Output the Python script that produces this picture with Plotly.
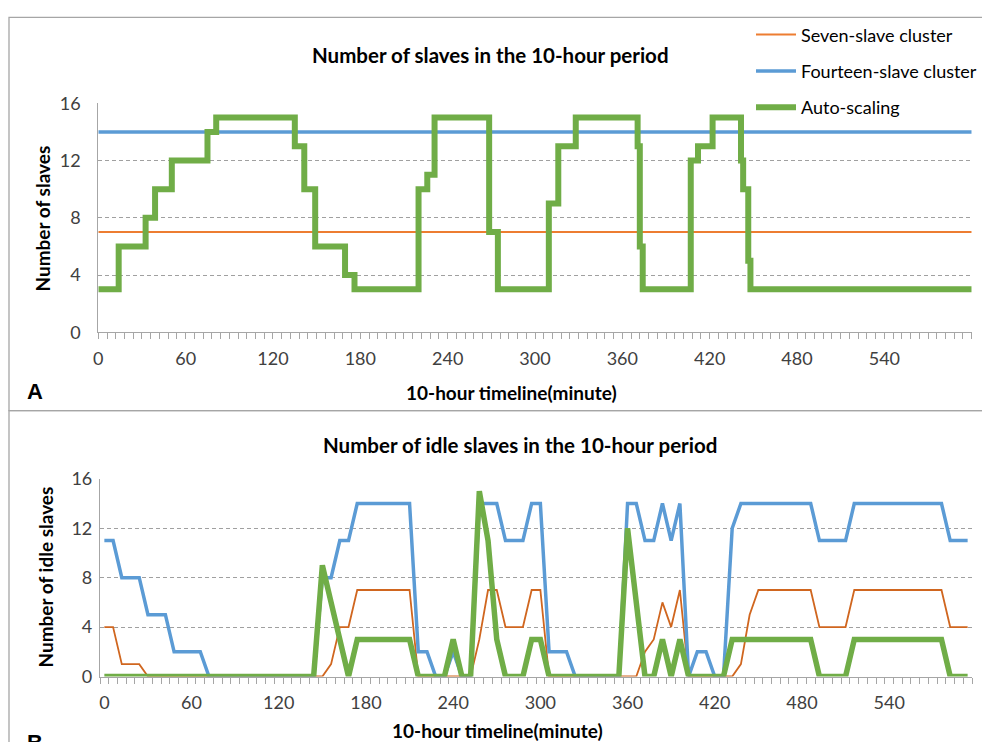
import plotly.graph_objects as go

W, H = 982, 742

# ---------------- DATA ----------------
# Panel A: number of slaves (step series, minute -> value)
auto_minutes = [0, 14, 32.5, 39, 50.5, 75, 81, 135, 141.5, 149, 169.5, 176, 220, 226, 231,
                268.5, 274.5, 309.5, 316, 328, 370.5, 372, 374, 407, 412, 422, 441.5, 443,
                446.5, 448, 600]
auto_values = [3, 6, 8, 10, 12, 14, 15, 13, 10, 6, 4, 3, 10, 11, 15,
               7, 3, 9, 13, 15, 13, 6, 3, 12, 13, 15, 12, 10,
               5, 3, 3]
cluster_minutes = [0, 600]
seven_values = [7, 7]
fourteen_values = [14, 14]

# Panel B: number of idle slaves, sampled every 6 minutes
idle_minutes = list(range(0, 600, 6))
idle_seven = ([4, 4, 1, 1, 1, 0, 0, 0, 0, 0, 0, 0] + [0] * 12 +
              [0, 0, 1, 4, 4] + [7] * 7 + [0, 0, 0, 0, 0, 0, 0] +
              [3, 7, 7, 4, 4, 4, 7, 7, 0, 0, 0] + [0] * 6 +
              [0, 0, 2, 3, 6, 4, 7, 0, 0, 0, 0, 0] +
              [0, 1, 5] + [7] * 7 + [4] * 4 + [7] * 11 + [4] * 3)
idle_fourteen = ([11, 11, 8, 8, 8, 5, 5, 5, 2, 2, 2, 2] + [0] * 12 +
                 [0, 8, 8, 11, 11] + [14] * 7 + [2, 2, 0, 0, 2, 0, 0] +
                 [14, 14, 14, 11, 11, 11, 14, 14, 2, 2, 2] + [0] * 6 +
                 [14, 14, 11, 11, 14, 11, 14, 0, 2, 2, 0, 0] +
                 [12, 14, 14] + [14] * 7 + [11] * 4 + [14] * 11 + [11] * 3)
idle_auto = ([0] * 12 + [0] * 12 +
             [0, 9, 6, 3, 0] + [3] * 7 + [0, 0, 0, 0, 3, 0, 0] +
             [15, 11, 3, 0, 0, 0, 3, 3, 0, 0, 0] + [0] * 6 +
             [12, 6, 0, 0, 3, 0, 3, 0, 0, 0, 0, 0] +
             [3, 3, 3] + [3] * 7 + [0] * 4 + [3] * 11 + [0] * 3)

x_tick_labels = [0, 60, 120, 180, 240, 300, 360, 420, 480, 540]
y_ticks = [0, 4, 8, 12, 16]

names = ["Seven-slave cluster", "Fourteen-slave cluster", "Auto-scaling"]
c_orange, c_blue, c_green = "#ED7D31", "#5B9BD5", "#70AD47"
c_orange_b = "#D0661F"

# ---------------- FIGURE ----------------
def fx(px):
    return px / W

def fy(py):
    return 1 - py / H

fig = go.Figure()

fig.add_trace(go.Scatter(x=cluster_minutes, y=seven_values, mode="lines", name=names[0],
                         line=dict(color=c_orange, width=2), xaxis="x", yaxis="y",
                         legendgroup="a"))
fig.add_trace(go.Scatter(x=cluster_minutes, y=fourteen_values, mode="lines", name=names[1],
                         line=dict(color=c_blue, width=3.5), xaxis="x", yaxis="y",
                         legendgroup="b"))
fig.add_trace(go.Scatter(x=auto_minutes, y=auto_values, mode="lines", name=names[2],
                         line=dict(color=c_green, width=6, shape="hv"), xaxis="x", yaxis="y",
                         legendgroup="c"))

fig.add_trace(go.Scatter(x=idle_minutes, y=idle_seven, mode="lines", name=names[0],
                         line=dict(color=c_orange_b, width=1.8), xaxis="x2", yaxis="y2",
                         showlegend=False))
fig.add_trace(go.Scatter(x=idle_minutes, y=idle_fourteen, mode="lines", name=names[1],
                         line=dict(color=c_blue, width=3.5), xaxis="x2", yaxis="y2",
                         showlegend=False))
fig.add_trace(go.Scatter(x=idle_minutes, y=idle_auto, mode="lines", name=names[2],
                         line=dict(color=c_green, width=5.5), xaxis="x2", yaxis="y2",
                         showlegend=False))

axis_gray = "#A6A6A6"
grid_gray = "#A0A0A0"
tick_font = dict(family="Lato", size=18, color="#404040")

common_x = dict(showgrid=False, zeroline=False, showline=True, linecolor=axis_gray,
                linewidth=1.2, tickfont=tick_font, tickmode="array", tickvals=x_tick_labels,
                fixedrange=True, automargin=False)
common_y = dict(range=[0, 16], tickmode="array", tickvals=y_ticks, showgrid=True,
                gridcolor=grid_gray, griddash="4px,3px", gridwidth=1, zeroline=False,
                showline=True, linecolor=axis_gray, linewidth=1.2, ticks="",
                tickfont=tick_font, fixedrange=True, automargin=False)

fig.update_layout(
    width=W, height=H,
    margin=dict(l=0, r=0, t=0, b=0, pad=0, autoexpand=False),
    paper_bgcolor="white", plot_bgcolor="white",
    font=dict(family="Lato", color="#000000"),
    xaxis=dict(common_x, domain=[fx(98.3), fx(971.7)], range=[0, 600], anchor="y",
               ticks="outside", ticklen=6, tickcolor=axis_gray, ticklabelstandoff=4,
               minor=dict(tickmode="linear", tick0=0, dtick=6, ticks="outside", ticklen=6,
                          tickcolor=axis_gray, showgrid=False)),
    yaxis=dict(common_y, domain=[fy(332.3), fy(103.3)], anchor="x", ticklabelstandoff=13),
    xaxis2=dict(common_x, domain=[fx(100), fx(972)], range=[-3, 597], anchor="y2",
                ticks="", ticklabelstandoff=10,
                minor=dict(tickmode="linear", tick0=-3, dtick=6, ticks="outside", ticklen=6,
                           tickcolor=axis_gray, showgrid=False)),
    yaxis2=dict(common_y, domain=[fy(676.5), fy(478.8)], anchor="x2", ticklabelstandoff=3),
    legend=dict(x=fx(751), y=fy(16.3), xanchor="left", yanchor="top",
                bgcolor="rgba(0,0,0,0)", font=dict(family="Lato", size=18, color="#000000"),
                tracegroupgap=10, itemwidth=40),
    showlegend=True,
)

ann = []
def add_text(text, px, py, size, bold=True, angle=0, family="Lato"):
    ann.append(dict(text=("<b>%s</b>" % text) if bold else text, x=fx(px), y=fy(py),
                    xref="paper", yref="paper", showarrow=False, xanchor="center",
                    yanchor="middle", textangle=angle,
                    font=dict(family=family, size=size, color="#000000")))

add_text("Number of slaves in the 10-hour period", 490, 55, 20.5)
add_text("Number of slaves", 42, 218.5, 19, angle=-90)
add_text("10-hour timeline(minute)", 511, 392, 19)
add_text("A", 34.5, 391, 22, family="Liberation Sans")
add_text("Number of idle slaves in the 10-hour period", 520, 445, 20.5)
add_text("Number of idle slaves", 45, 577.5, 19, angle=-90)
add_text("10-hour timeline(minute)", 498, 730.5, 19)
add_text("B", 34.5, 742, 22, family="Liberation Sans")
fig.update_layout(annotations=ann)

fig.update_layout(shapes=[
    dict(type="rect", xref="paper", yref="paper", x0=fx(9), x1=1.05, y0=fy(410.7), y1=fy(17.3),
         line=dict(color="#A6A6A6", width=1.3), layer="below"),
    dict(type="rect", xref="paper", yref="paper", x0=fx(9), x1=1.05, y0=-0.05, y1=fy(410.7),
         line=dict(color="#A6A6A6", width=1.3), layer="below"),
])

fig.write_html("out.html", config={"displayModeBar": False},
               post_script="document.body.style.margin='0';document.body.style.overflow='hidden';")
